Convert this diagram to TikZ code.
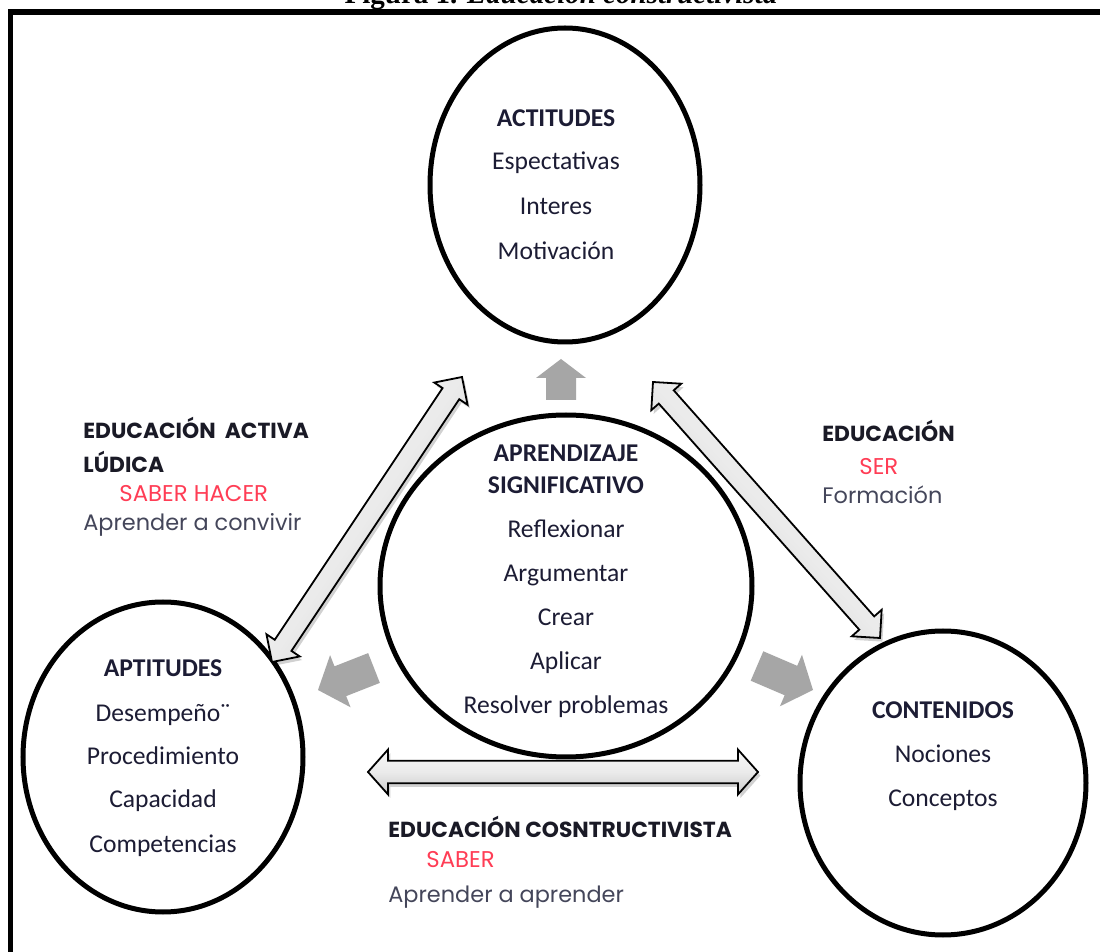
\documentclass[tikz,border=0pt]{standalone}
\usepackage{fontspec}
\setmainfont{Carlito}
\newfontfamily\gothic{Poppins}
\newfontfamily\titlefont{Liberation Serif}
\usetikzlibrary{calc,shapes.geometric}

\definecolor{inktext}{HTML}{1C1C34}
\definecolor{labelink}{HTML}{1A1A26}
\definecolor{softink}{HTML}{44465A}
\definecolor{accent}{HTML}{FF3D55}
\definecolor{blockgray}{HTML}{A6A6A6}

% double-headed block arrow between two named points
% #1,#2 tips, #3 head length, #4 shaft half width, #5 head half width, #6 shading angle
\newcommand\twowayarrow[6]{%
  \draw[arrowbody, shading angle=#6]
    (#1) -- ($(#1)!#3!(#2)!#5!90:(#2)$) -- ($(#1)!#3!(#2)!#4!90:(#2)$)
    -- ($(#2)!#3!(#1)!#4!-90:(#1)$) -- ($(#2)!#3!(#1)!#5!-90:(#1)$)
    -- (#2) -- ($(#2)!#3!(#1)!#5!90:(#1)$) -- ($(#2)!#3!(#1)!#4!90:(#1)$)
    -- ($(#1)!#3!(#2)!#4!-90:(#2)$) -- ($(#1)!#3!(#2)!#5!-90:(#2)$) -- cycle;}

% solid one-way block arrow from a tail point to a tip point
% #1 tail, #2 tip, #3 head length, #4 shaft half width, #5 head half width
\newcommand\onewayarrow[5]{%
  \fill[blockgray]
    (#2) -- ($(#2)!#3!(#1)!#5!90:(#1)$) -- ($(#2)!#3!(#1)!#4!90:(#1)$)
    -- ($(#1)!#4!-90:(#2)$) -- ($(#1)!#4!90:(#2)$)
    -- ($(#2)!#3!(#1)!#4!-90:(#1)$) -- ($(#2)!#3!(#1)!#5!-90:(#1)$) -- cycle;}

\begin{document}
\begin{tikzpicture}[x=0.5pt,y=-0.5pt,
  ring/.style={draw=black, line width=2.5pt, ellipse, inner sep=0pt},
  item/.style={anchor=base, inner sep=0pt, text=inktext,
    font=\fontsize{12.8}{15}\selectfont},
  itemhead/.style={item, font=\fontsize{12.8}{15}\selectfont\bfseries},
  lblhead/.style={anchor=base west, inner sep=0pt, text=labelink,
    font=\gothic\bfseries\fontsize{10.9}{13}\selectfont},
  lblred/.style={anchor=base west, inner sep=0pt, text=accent,
    font=\gothic\fontsize{11.4}{13}\selectfont},
  lblsoft/.style={anchor=base west, inner sep=0pt, text=softink,
    font=\gothic\fontsize{11.2}{13}\selectfont},
  arrowbody/.style={draw=black, line width=0.9pt, line join=miter,
    top color=gray!6, bottom color=gray!42, middle color=gray!16,
    preaction={fill=black, opacity=0.18,
      transform canvas={shift={(1.2pt,-1.8pt)}}}},
]
\useasboundingbox (0,0) rectangle (1100,952);
\clip (0,0) rectangle (1100,952);
\fill[white] (0,0) rectangle (1100,952);

% caption above the frame
\node[anchor=base, inner sep=0pt, font=\titlefont\bfseries\fontsize{14.5}{17}\selectfont]
  (caption) at (561,4) {Figura 1. \textit{Educación constructivista}};

% frame (top and left rules)
\draw[line width=3pt] (8,12.5) -- (1100,12.5);
\draw[line width=2.5pt] (10.5,10) -- (10.5,952);

% the four ellipses
\node[ring, minimum width=135pt, minimum height=157pt] (actitudes) at (565,185) {};
\node[ring, minimum width=186pt, minimum height=171pt] (aprendizaje) at (566,586) {};
\node[ring, minimum width=140pt, minimum height=155pt] (aptitudes) at (163,757) {};
\node[ring, minimum width=143pt, minimum height=152pt] (contenidos) at (943,783) {};

% ACTITUDES
\node[itemhead] (t1) at (556,127) {ACTITUDES};
\node[item] (t2) at (556,170) {Espectativas};
\node[item] (t3) at (556,215) {Interes};
\node[item] (t4) at (556,260) {Motivación};

% APRENDIZAJE SIGNIFICATIVO
\node[itemhead] (c1) at (566,462) {APRENDIZAJE};
\node[itemhead] (c2) at (566,494) {SIGNIFICATIVO};
\node[item] (c3) at (566,538) {Reflexionar};
\node[item] (c4) at (566,582) {Argumentar};
\node[item] (c5) at (566,626) {Crear};
\node[item] (c6) at (566,670) {Aplicar};
\node[item] (c7) at (566,714) {Resolver problemas};

% APTITUDES
\node[itemhead] (l1) at (163,677) {APTITUDES};
\node[item] (l2) at (163,722) {Desempeño¨};
\node[item] (l3) at (163,765) {Procedimiento};
\node[item] (l4) at (163,808) {Capacidad};
\node[item] (l5) at (163,853) {Competencias};

% CONTENIDOS
\node[itemhead] (r1) at (943,719) {CONTENIDOS};
\node[item] (r2) at (943,763) {Nociones};
\node[item] (r3) at (943,807) {Conceptos};

% side labels
\node[lblhead] (la) at (83,439) {EDUCACIÓN\ \ ACTIVA};
\node[lblhead] (lb) at (83,473) {LÚDICA};
\node[lblred]  (lc) at (119,502) {SABER HACER};
\node[lblsoft] (ld) at (83,531) {Aprender a convivir};

\node[lblhead] (ra) at (822,442) {EDUCACIÓN};
\node[lblred]  (rb) at (859,475) {SER};
\node[lblsoft] (rc) at (822,504) {Formación};

\node[lblhead] (ba) at (388,838) {EDUCACIÓN COSNTRUCTIVISTA};
\node[lblred]  (bb) at (426,868) {SABER};
\node[lblsoft] (bc) at (388,902) {Aprender a aprender};

% tips of the two-way arrows
\coordinate (lup) at (462,377);
\coordinate (ldn) at (272,662);
\coordinate (rup) at (653,382);
\coordinate (rdn) at (880,638);
\coordinate (hl) at (368,772);
\coordinate (hr) at (758,772);

\twowayarrow{ldn}{lup}{10pt}{5pt}{10pt}{56}
\twowayarrow{rup}{rdn}{10pt}{5pt}{10pt}{-48}
\twowayarrow{hl}{hr}{10pt}{5.6pt}{11.2pt}{0}

% grey arrows leaving the central ellipse
\coordinate (upTail) at (561,400);
\coordinate (upTip) at (561,359);
\coordinate (lfTail) at (374,668);
\coordinate (lfTip) at (318,690);
\coordinate (rtTail) at (757,666);
\coordinate (rtTip) at (813,690);

\onewayarrow{upTail}{upTip}{9.5pt}{7.5pt}{12.5pt}
\onewayarrow{lfTail}{lfTip}{12pt}{8pt}{14pt}
\onewayarrow{rtTail}{rtTip}{12pt}{8pt}{14pt}
\end{tikzpicture}
\end{document}
